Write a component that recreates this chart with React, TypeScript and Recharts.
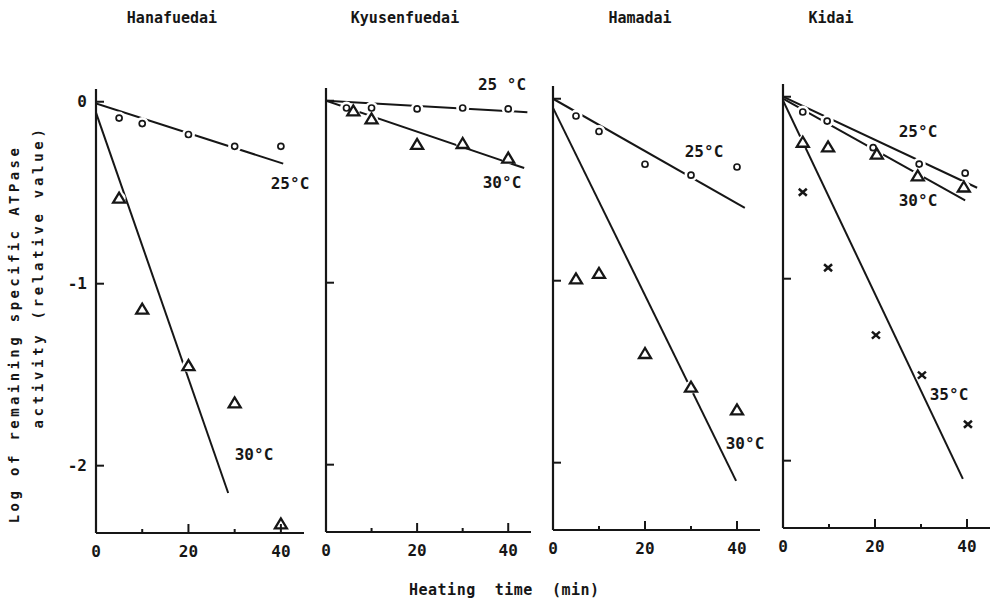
import React from "react";
import { ComposedChart, Line, XAxis, YAxis } from "recharts";

const INK = "#161616";
const FONT = "'DejaVu Sans Mono', 'Liberation Mono', monospace";

// log of remaining ATPase activity vs heating time (min)
const hanaTime = [5, 10, 20, 30, 40];
const hana25 = [-0.09, -0.12, -0.18, -0.245, -0.245];
const hana30 = [-0.53, -1.14, -1.45, -1.655, -2.32];
const hanaFit25 = [[0, -0.01], [40.5, -0.34]];
const hanaFit30 = [[0, -0.06], [28.6, -2.15]];

const kyuTime25 = [4.5, 10, 20, 30, 40];
const kyu25 = [-0.04, -0.04, -0.045, -0.04, -0.045];
const kyuTime30 = [6, 10, 20, 30, 40];
const kyu30 = [-0.056, -0.1, -0.24, -0.235, -0.315];
const kyuFit25 = [[0, 0], [44.2, -0.063]];
const kyuFit30 = [[0, 0], [43.5, -0.37]];

const hamaTime = [5, 10, 20, 30, 40];
const hama25 = [-0.095, -0.18, -0.36, -0.42, -0.375];
const hama30 = [-0.99, -0.96, -1.4, -1.585, -1.71];
const hamaFit25 = [[0, 0], [41.7, -0.6]];
const hamaFit30 = [[0, -0.05], [39.8, -2.1]];

const kiTime25 = [4.3, 9.6, 19.6, 29.6, 39.6];
const ki25 = [-0.084, -0.134, -0.28, -0.37, -0.42];
const kiTime30 = [4.3, 9.8, 20.4, 29.3, 39.3];
const ki30 = [-0.25, -0.276, -0.315, -0.435, -0.496];
const kiTime35 = [4.3, 9.8, 20.2, 30.2, 40.2];
const ki35 = [-0.525, -0.94, -1.31, -1.53, -1.8];
const kiFit25 = [[0, 0], [42.2, -0.5]];
const kiFit30 = [[0, -0.01], [39.6, -0.57]];
const kiFit35 = [[0, -0.02], [39.1, -2.1]];

const xTicks = [0, 10, 20, 30, 40];
const xLabelled = [0, 20, 40];
const yTicks = [-2, -1, 0];

const toPts = (xs: number[], ys: number[]) => xs.map((x, i) => ({ x, y: ys[i] }));
const fitPts = (f: number[][]) => f.map(([x, y]) => ({ x, y }));

type Marker = "circle" | "triangle" | "cross";

const panels = [
  {
    title: "Hanafuedai", titleX: 172, left: 96, top: 89, width: 208, yLabels: true,
    series: [
      { marker: "circle" as Marker, pts: toPts(hanaTime, hana25) },
      { marker: "triangle" as Marker, pts: toPts(hanaTime, hana30) },
    ],
    fits: [hanaFit25, hanaFit30],
    labels: [{ text: "25°C", x: 290, y: 189 }, { text: "30°C", x: 254, y: 460 }],
  },
  {
    title: "Kyusenfuedai", titleX: 405, left: 326, top: 88, width: 205, yLabels: false,
    series: [
      { marker: "circle" as Marker, pts: toPts(kyuTime25, kyu25) },
      { marker: "triangle" as Marker, pts: toPts(kyuTime30, kyu30) },
    ],
    fits: [kyuFit25, kyuFit30],
    labels: [{ text: "25 °C", x: 502, y: 90 }, { text: "30°C", x: 502, y: 188 }],
  },
  {
    title: "Hamadai", titleX: 640, left: 553, top: 86, width: 207, yLabels: false,
    series: [
      { marker: "circle" as Marker, pts: toPts(hamaTime, hama25) },
      { marker: "triangle" as Marker, pts: toPts(hamaTime, hama30) },
    ],
    fits: [hamaFit25, hamaFit30],
    labels: [{ text: "25°C", x: 704, y: 157 }, { text: "30°C", x: 745, y: 449 }],
  },
  {
    title: "Kidai", titleX: 831, left: 783, top: 84, width: 207, yLabels: false,
    series: [
      { marker: "circle" as Marker, pts: toPts(kiTime25, ki25) },
      { marker: "triangle" as Marker, pts: toPts(kiTime30, ki30) },
      { marker: "cross" as Marker, pts: toPts(kiTime35, ki35) },
    ],
    fits: [kiFit25, kiFit30, kiFit35],
    labels: [
      { text: "25°C", x: 918, y: 137 },
      { text: "30°C", x: 918, y: 206 },
      { text: "35°C", x: 949, y: 400 },
    ],
  },
];

// white patch behind each marker, so the fitted lines break around it
const halo = (props: any) => (
  <circle key={props.key ?? `${props.cx}-${props.cy}`} cx={props.cx} cy={props.cy} r={6.5} fill="#fff" />
);

const markerShape = (m: Marker) => (props: any) => {
  const { cx, cy } = props;
  const key = props.key ?? `${m}-${cx}-${cy}`;
  if (m === "circle") {
    return <circle key={key} cx={cx} cy={cy} r={3} fill="#fff" stroke={INK} strokeWidth={1.7} />;
  }
  if (m === "triangle") {
    return (
      <path
        key={key}
        d={`M${cx},${cy - 5.5} L${cx - 6},${cy + 4.5} L${cx + 6},${cy + 4.5} Z`}
        fill="#fff"
        stroke={INK}
        strokeWidth={2.3}
      />
    );
  }
  return (
    <g key={key} stroke={INK} strokeWidth={2.5}>
      <line x1={cx - 4} y1={cy - 3.5} x2={cx + 4} y2={cy + 3.5} />
      <line x1={cx - 4} y1={cy + 3.5} x2={cx + 4} y2={cy - 3.5} />
    </g>
  );
};

const XTick = (props: any) => {
  const { x, y, payload } = props;
  const v = payload.value;
  const len = v === 0 ? 0 : v % 20 === 0 ? 9 : 4;
  return (
    <g>
      {len > 0 && <line x1={x} x2={x} y1={y} y2={y - len} stroke={INK} strokeWidth={2} />}
      {xLabelled.includes(v) && (
        <text x={x} y={y + 24} textAnchor="middle" fontFamily={FONT} fontWeight="bold" fontSize={16} fill={INK}>
          {v}
        </text>
      )}
    </g>
  );
};

const yTick = (showLabel: boolean) => (props: any) => {
  const { x, y, payload } = props;
  return (
    <g>
      <line x1={x} x2={x + 8} y1={y} y2={y} stroke={INK} strokeWidth={2} />
      {showLabel && (
        <text x={x - 9} y={y + 5} textAnchor="end" fontFamily={FONT} fontWeight="bold" fontSize={16} fill={INK}>
          {payload.value}
        </text>
      )}
    </g>
  );
};

const YW = 40;
const XH = 34;
const MT = 10;
const MR = 12;
const PLOT_H = 444;

function Panel({ p }: { p: (typeof panels)[number] }) {
  return (
    <div style={{ position: "absolute", left: p.left - YW, top: p.top - MT }}>
      <ComposedChart
        width={YW + p.width + MR}
        height={MT + PLOT_H + XH}
        margin={{ top: MT, right: MR, bottom: 0, left: 0 }}
      >
        <XAxis
          type="number"
          dataKey="x"
          domain={[0, 45]}
          ticks={xTicks}
          interval={0}
          allowDataOverflow
          height={XH}
          axisLine={{ stroke: INK, strokeWidth: 2.2 }}
          tickLine={false}
          tickSize={0}
          tickMargin={0}
          tick={XTick}
        />
        <YAxis
          type="number"
          dataKey="y"
          domain={[-2.37, 0.07]}
          ticks={yTicks}
          interval={0}
          allowDataOverflow
          width={YW}
          axisLine={{ stroke: INK, strokeWidth: 2.2 }}
          tickLine={false}
          tickSize={0}
          tickMargin={0}
          tick={yTick(p.yLabels)}
        />
        {p.fits.map((f, i) => (
          <Line
            key={`fit${i}`}
            data={fitPts(f)}
            dataKey="y"
            stroke={INK}
            strokeWidth={2}
            dot={false}
            activeDot={false}
            isAnimationActive={false}
          />
        ))}
        {p.series.map((s, i) => (
          <Line
            key={`halo${i}`}
            data={s.pts}
            dataKey="y"
            stroke="none"
            dot={halo}
            activeDot={false}
            isAnimationActive={false}
          />
        ))}
        {p.series.map((s, i) => (
          <Line
            key={`mk${i}`}
            data={s.pts}
            dataKey="y"
            stroke="none"
            dot={markerShape(s.marker)}
            activeDot={false}
            isAnimationActive={false}
          />
        ))}
      </ComposedChart>
    </div>
  );
}

export default function App() {
  const txt = { fontFamily: FONT, fontWeight: "bold" as const, fill: INK };
  return (
    <div style={{ position: "absolute", left: 0, top: 0, width: 994, height: 602, background: "#fff" }}>
      {panels.map((p) => (
        <Panel key={p.title} p={p} />
      ))}
      <svg width={994} height={602} style={{ position: "absolute", left: 0, top: 0, pointerEvents: "none" }}>
        {panels.map((p) => (
          <text key={p.title} x={p.titleX} y={23} textAnchor="middle" fontSize={15} {...txt}>
            {p.title}
          </text>
        ))}
        {panels.flatMap((p) =>
          p.labels.map((l) => (
            <text key={p.title + l.text + l.y} x={l.x} y={l.y} textAnchor="middle" fontSize={16} {...txt}>
              {l.text}
            </text>
          ))
        )}
        <text
          transform="translate(19,334) rotate(-90)"
          textAnchor="middle"
          fontSize={14}
          letterSpacing={3.4}
          {...txt}
        >
          Log of remaining specific ATPase
        </text>
        <text
          transform="translate(43,277) rotate(-90)"
          textAnchor="middle"
          fontSize={14}
          letterSpacing={3.7}
          {...txt}
        >
          activity (relative value)
        </text>
        <text x={409} y={595} fontSize={15} letterSpacing={0.5} xmlSpace="preserve" {...txt}>
          Heating  time  (min)
        </text>
      </svg>
    </div>
  );
}
